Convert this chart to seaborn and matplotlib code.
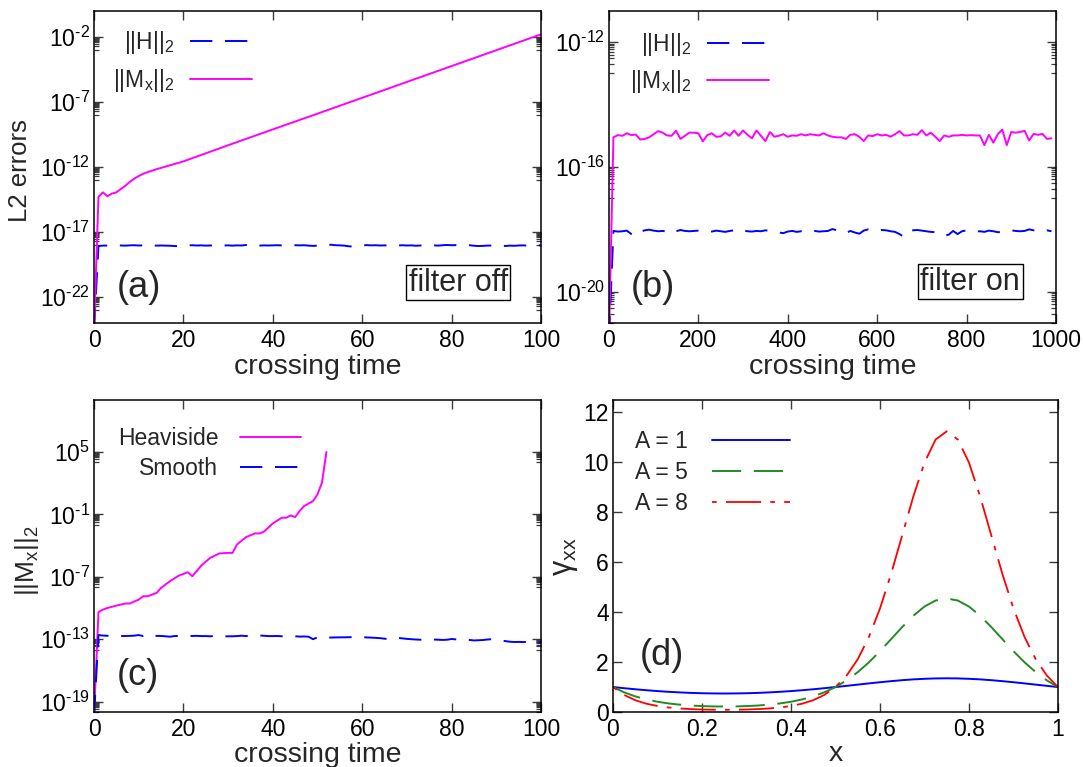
import numpy as np
import pandas as pd
import matplotlib
matplotlib.use("Agg")
import matplotlib.pyplot as plt
from matplotlib.ticker import FixedLocator, FuncFormatter, NullFormatter
import seaborn as sns

# ---------------------------------------------------------------- data
# (a) filter off: crossing time 0..100, errors stored as log10 exponents
t_a_H = np.arange(0, 101)
log_H_a = [-24.5, -18.08, -18.05, -18.04, -18.05, -18.03, -18.04, -18.05, -18.03, -18.02,
           -18.04, -18.03, -17.98, -18.03, -18.05, -18.04, -18.05, -18.06, -18.08, -18.10,
           -18.05, -18.03, -18.02, -18.04, -18.03, -18.05, -18.04, -18.03, -18.07, -18.04,
           -18.03, -18.05, -18.03, -18.04, -18.00, -18.06, -18.02, -18.05, -18.03, -18.04,
           -18.03, -18.02, -18.03, -18.02, -18.03, -18.02, -18.03, -18.02, -18.05, -18.07,
           -18.05, -18.03, -18.01, -17.98, -18.02, -18.03, -18.05, -18.10, -18.12, -18.07,
           -18.03, -18.01, -18.03, -18.02, -18.04, -18.03, -18.05, -18.03, -18.04, -18.02,
           -18.04, -18.03, -18.06, -18.04, -18.02, -18.04, -18.03, -18.05, -18.02, -18.00,
           -18.02, -18.01, -18.03, -18.04, -18.02, -18.06, -18.08, -18.07, -18.05, -18.04,
           -18.06, -18.03, -18.08, -18.05, -18.06, -18.04, -18.03, -18.05, -18.02, -18.04,
           -18.03]
t_a_M = [0, 1, 2, 3, 4, 5, 6, 7, 8, 9, 10, 11, 12, 13, 14, 15, 16, 17, 18, 19, 20,
         30, 40, 50, 60, 70, 80, 90, 100]
log_M_a = [-24.5, -14.3, -13.95, -14.25, -14.05, -13.95, -13.7, -13.45, -13.15, -12.9,
           -12.7, -12.52, -12.4, -12.28, -12.17, -12.07, -11.97, -11.87, -11.77, -11.67,
           -11.57, -10.33, -9.11, -7.9, -6.68, -5.46, -4.24, -3.02, -1.8]

# (b) filter on: crossing time 0..990
t_b = np.arange(0, 1000, 10)
log_M_b = [-21.5, -15.05, -14.98, -15.00, -14.92, -14.98, -14.96, -15.12, -15.10, -15.05,
           -14.95, -14.85, -14.90, -14.99, -15.00, -14.84, -15.10, -15.00, -14.90, -14.90,
           -14.92, -15.18, -14.98, -14.92, -15.03, -15.02, -14.90, -15.00, -14.83, -15.00,
           -14.83, -14.97, -15.08, -14.83, -15.00, -15.17, -14.88, -15.03, -15.00, -14.95,
           -15.03, -14.99, -15.00, -14.95, -14.99, -14.95, -14.97, -14.99, -14.92, -14.99,
           -15.03, -15.05, -15.05, -15.10, -14.97, -14.95, -15.03, -15.17, -14.99, -15.01,
           -14.95, -14.99, -14.97, -15.03, -14.95, -14.85, -14.99, -14.99, -14.95, -14.97,
           -14.82, -14.99, -14.90, -15.03, -15.17, -14.99, -15.03, -14.99, -14.99, -14.97,
           -14.99, -14.98, -14.99, -14.99, -15.30, -14.97, -15.22, -14.95, -14.80, -15.30,
           -14.88, -14.90, -14.88, -14.84, -15.15, -14.94, -14.97, -14.94, -15.10, -15.08]
log_H_b = [-21.5, -18.05, -18.07, -18.06, -18.04, -18.15, -18.20, -18.08, -18.03, -18.01,
           -18.04, -18.06, -18.05, -18.07, -18.13, -18.06, -18.02, -18.05, -18.06, -18.05,
           -18.04, -18.06, -18.05, -18.07, -18.04, -18.06, -18.08, -18.05, -18.03, -17.99,
           -18.04, -18.06, -18.07, -18.05, -18.06, -18.03, -18.05, -18.08, -18.10, -18.12,
           -18.07, -18.05, -18.08, -18.06, -18.09, -18.07, -18.05, -18.07, -18.06, -18.05,
           -17.99, -18.03, -18.08, -18.12, -18.05, -18.10, -18.14, -18.04, -18.00, -18.03,
           -18.04, -18.02, -18.03, -18.06, -18.08, -18.15, -18.24, -18.10, -18.03, -18.02,
           -18.04, -18.06, -18.08, -18.09, -18.13, -18.20, -18.17, -18.05, -18.15, -18.06,
           -18.03, -18.05, -18.07, -18.06, -18.08, -18.04, -18.06, -18.09, -18.08, -18.05,
           -18.03, -18.05, -18.06, -18.05, -18.00, -18.03, -18.02, -18.05, -18.03, -18.06]

# (c) Heaviside vs smooth initial data
t_c_heav = [0, 1, 2, 3, 5, 7, 8, 10, 11, 12, 14, 15, 17, 19, 21, 22, 24, 26, 28, 30, 31,
            32, 34, 36, 37, 38, 40, 42, 43, 44, 45, 46, 47, 49, 50, 51, 52]
log_heav = [-20.5, -10.4, -10.15, -10.0, -9.77, -9.57, -9.57, -9.19, -8.87, -8.87, -8.55,
            -8.07, -7.42, -6.88, -6.56, -6.94, -5.92, -5.18, -4.76, -4.70, -4.70, -3.89,
            -3.19, -2.83, -2.83, -2.67, -1.87, -1.32, -1.32, -1.10, -1.26, -0.68, -0.20,
            0.28, 0.92, 2.05, 5.0]
t_c_smooth = np.arange(0, 101)
log_smooth = [-20.5, -12.60, -12.65, -12.67, -12.68, -12.70, -12.70, -12.69, -12.68, -12.66,
              -12.60, -12.70, -12.57, -12.70, -12.68, -12.69, -12.72, -12.76, -12.70, -12.68,
              -12.67, -12.68, -12.69, -12.68, -12.70, -12.70, -12.72, -12.70, -12.75, -12.73,
              -12.72, -12.72, -12.70, -12.66, -12.70, -12.67, -12.65, -12.64, -12.67, -12.70,
              -12.70, -12.69, -12.72, -12.70, -12.70, -12.72, -12.75, -12.74, -12.76, -13.00,
              -12.82, -12.88, -12.86, -12.84, -12.83, -12.82, -12.82, -12.81, -12.80, -12.79,
              -12.80, -12.83, -12.85, -12.87, -12.90, -12.95, -13.00, -12.93, -12.88, -12.92,
              -12.97, -13.00, -13.03, -13.05, -13.03, -13.02, -13.03, -13.05, -13.07, -13.05,
              -12.98, -13.02, -13.05, -13.03, -13.07, -13.12, -13.10, -13.08, -13.03, -13.00,
              -13.05, -13.12, -13.18, -13.24, -13.27, -13.26, -13.28, -13.24, -13.28, -13.27,
              -13.30]

# (d) gamma_xx profiles
x_d = np.linspace(0.0, 1.0, 41)
gamma_A1 = [1.000, 0.954, 0.911, 0.873, 0.838, 0.809, 0.785, 0.765, 0.752, 0.744, 0.741,
            0.744, 0.752, 0.765, 0.785, 0.809, 0.838, 0.873, 0.911, 0.954, 1.000, 1.048,
            1.097, 1.146, 1.193, 1.236, 1.275, 1.307, 1.330, 1.345, 1.350, 1.345, 1.330,
            1.307, 1.275, 1.236, 1.193, 1.146, 1.097, 1.048, 1.000]
gamma_A5 = [1.000, 0.789, 0.626, 0.503, 0.411, 0.343, 0.294, 0.259, 0.237, 0.224, 0.220,
            0.224, 0.237, 0.259, 0.294, 0.343, 0.411, 0.503, 0.626, 0.789, 1.000, 1.267,
            1.597, 1.989, 2.436, 2.919, 3.406, 3.857, 4.225, 4.466, 4.549, 4.466, 4.225,
            3.857, 3.406, 2.919, 2.436, 1.989, 1.597, 1.267, 1.000]
gamma_A8 = [1.000, 0.685, 0.473, 0.333, 0.241, 0.181, 0.141, 0.116, 0.100, 0.092, 0.089,
            0.092, 0.100, 0.116, 0.141, 0.181, 0.241, 0.333, 0.473, 0.685, 1.000, 1.460,
            2.112, 3.000, 4.147, 5.535, 7.083, 8.638, 9.991, 10.916, 11.246, 10.916, 9.991,
            8.638, 7.083, 5.535, 4.147, 3.000, 2.112, 1.460, 1.000]

x_ticks_100 = [0, 20, 40, 60, 80, 100]
x_ticks_1000 = [0, 200, 400, 600, 800, 1000]
x_ticks_d = [0, 0.2, 0.4, 0.6, 0.8, 1.0]
y_ticks_d = [0, 2, 4, 6, 8, 10, 12]

# ---------------------------------------------------------------- style
sns.set_theme(style="white")
plt.rcParams.update({
    "font.family": ["Liberation Sans", "DejaVu Sans"],
    "mathtext.fontset": "custom",
    "mathtext.rm": "Liberation Sans",
    "mathtext.it": "Liberation Sans",
    "mathtext.sf": "Liberation Sans",
    "mathtext.bf": "Liberation Sans:bold",
    "mathtext.default": "regular",
    "axes.unicode_minus": False,
})

BLUE = "#0000ff"
MAGENTA = "#ff00ff"
GREEN = "#228b22"
RED = "#ff0000"
LW = 1.4
DASH_BLUE = (0, (11.5, 6.5))
DASH_GREEN = (0, (15, 6.5))
DASH_RED = (0, (2.6, 5.1, 19.5, 5.1))

TICK_FS = 16.5
LEG_FS = 16.5
XLAB_FS = 20.5
PANEL_FS = 26

fig = plt.figure(figsize=(10.83, 7.67), dpi=100)
ax_a = fig.add_axes([0.0868, 0.5789, 0.4127, 0.4068])
ax_b = fig.add_axes([0.5623, 0.5789, 0.4127, 0.4068])
ax_c = fig.add_axes([0.0868, 0.0717, 0.4127, 0.4068])
ax_d = fig.add_axes([0.5660, 0.0717, 0.4109, 0.4068])


def style_axis(ax):
    for s in ax.spines.values():
        s.set_visible(True)
        s.set_color("black")
        s.set_linewidth(1.1)
    ax.tick_params(which="both", direction="in", top=True, right=True,
                   bottom=True, left=True, color="#3c3c3c", labelcolor="black",
                   labelsize=TICK_FS)
    ax.tick_params(which="major", length=6.5, width=1.0)
    ax.tick_params(which="minor", length=3.6, width=0.9)
    ax.tick_params(axis="x", pad=4.3)
    ax.tick_params(axis="y", pad=3)


def power_label(v, pos):
    e = int(round(np.log10(v)))
    if e < 0:
        return r"$10^{\text{-}%d}$" % (-e)
    return r"$10^{%d}$" % e


def log_axis(ax, exps, lo, hi):
    ax.set_yscale("log")
    ax.set_ylim(10.0 ** lo, 10.0 ** hi)
    ax.yaxis.set_major_locator(FixedLocator([10.0 ** e for e in exps]))
    ax.yaxis.set_minor_locator(FixedLocator([k * 10.0 ** (e - 1) for e in exps for k in range(1, 10)]))
    ax.yaxis.set_major_formatter(FuncFormatter(power_label))
    ax.yaxis.set_minor_formatter(NullFormatter())


def lin_x(ax, ticks):
    ax.set_xlim(ticks[0], ticks[-1])
    ax.xaxis.set_major_locator(FixedLocator(ticks))
    ax.xaxis.set_major_formatter(FuncFormatter(lambda v, p: "%g" % v))


def legend(ax, anchor, hl, pad, spacing):
    ax.legend(loc="upper right", bbox_to_anchor=anchor, markerfirst=False, frameon=False,
              fontsize=LEG_FS, handlelength=hl, handletextpad=pad, labelspacing=spacing,
              borderpad=0, borderaxespad=0)


def panel_label(ax, text, x, y):
    ax.text(x, y, text, transform=ax.transAxes, ha="center", va="center", fontsize=PANEL_FS)


def boxed_note(ax, text, x, y):
    ax.text(x, y, text, transform=ax.transAxes, ha="center", va="center", fontsize=22,
            bbox=dict(boxstyle="square,pad=0.08", fc="white", ec="black", lw=1.0))


# ---------------------------------------------------------------- (a)
ax = ax_a
log_axis(ax, [-2, -7, -12, -17, -22], -24, 0)
sns.lineplot(x=t_a_H, y=10.0 ** np.array(log_H_a), ax=ax, color=BLUE, lw=LW,
             linestyle=DASH_BLUE, label=r"$||H||_2$", errorbar=None)
sns.lineplot(x=t_a_M, y=10.0 ** np.array(log_M_a), ax=ax, color=MAGENTA, lw=LW,
             label=r"$||M_x||_2$", errorbar=None)
lin_x(ax, x_ticks_100)
style_axis(ax)
ax.set_xlabel("crossing time", fontsize=XLAB_FS)
ax.set_ylabel("L2 errors", fontsize=18.5)
ax.xaxis.set_label_coords(0.5, -0.099)
ax.yaxis.set_label_coords(-0.139, 0.49)
legend(ax, (0.353, 0.941), 2.7, 0.65, 0.45)
panel_label(ax, "(a)", 0.10, 0.114)
boxed_note(ax, "filter off", 0.815, 0.129)

# ---------------------------------------------------------------- (b)
ax = ax_b
log_axis(ax, [-12, -16, -20], -21, -11)
sns.lineplot(x=t_b, y=10.0 ** np.array(log_H_b), ax=ax, color=BLUE, lw=LW,
             linestyle=DASH_BLUE, label=r"$||H||_2$", errorbar=None)
sns.lineplot(x=t_b, y=10.0 ** np.array(log_M_b), ax=ax, color=MAGENTA, lw=LW,
             label=r"$||M_x||_2$", errorbar=None)
lin_x(ax, x_ticks_1000)
style_axis(ax)
ax.set_xlabel("crossing time", fontsize=XLAB_FS)
ax.set_ylabel("")
ax.xaxis.set_label_coords(0.5, -0.099)
legend(ax, (0.357, 0.936), 2.7, 0.65, 0.45)
panel_label(ax, "(b)", 0.099, 0.114)
boxed_note(ax, "filter on", 0.8085, 0.132)

# ---------------------------------------------------------------- (c)
ax = ax_c
log_axis(ax, [5, -1, -7, -13, -19], -20, 10)
sns.lineplot(x=t_c_heav, y=10.0 ** np.array(log_heav), ax=ax, color=MAGENTA, lw=LW,
             label="Heaviside", errorbar=None)
sns.lineplot(x=t_c_smooth, y=10.0 ** np.array(log_smooth), ax=ax, color=BLUE, lw=LW,
             linestyle=DASH_BLUE, label="Smooth", errorbar=None)
lin_x(ax, x_ticks_100)
style_axis(ax)
ax.set_xlabel("crossing time", fontsize=XLAB_FS)
ax.set_ylabel(r"$||M_x||_2$", fontsize=19)
ax.xaxis.set_label_coords(0.5, -0.096)
ax.yaxis.set_label_coords(-0.119, 0.487)
legend(ax, (0.463, 0.914), 2.66, 0.95, 0.3)
panel_label(ax, "(c)", 0.099, 0.118)

# ---------------------------------------------------------------- (d)
ax = ax_d
sns.lineplot(x=x_d, y=gamma_A1, ax=ax, color=BLUE, lw=LW, label="A = 1", errorbar=None)
sns.lineplot(x=x_d, y=gamma_A5, ax=ax, color=GREEN, lw=LW, linestyle=DASH_GREEN,
             label="A = 5", errorbar=None)
sns.lineplot(x=x_d, y=gamma_A8, ax=ax, color=RED, lw=1.3, linestyle=DASH_RED,
             label="A = 8", errorbar=None)
lin_x(ax, x_ticks_d)
ax.set_ylim(0, 12.5)
ax.yaxis.set_major_locator(FixedLocator(y_ticks_d))
ax.yaxis.set_major_formatter(FuncFormatter(lambda v, p: "%g" % v))
style_axis(ax)
ax.set_xlabel("x", fontsize=XLAB_FS)
ax.set_ylabel(r"$\gamma_{xx}$", fontsize=22)
ax.xaxis.set_label_coords(0.5, -0.093)
ax.yaxis.set_label_coords(-0.074, 0.497)
legend(ax, (0.398, 0.904), 3.4, 1.05, 0.35)
panel_label(ax, "(d)", 0.110, 0.182)

fig.savefig("out.png", dpi=100)
